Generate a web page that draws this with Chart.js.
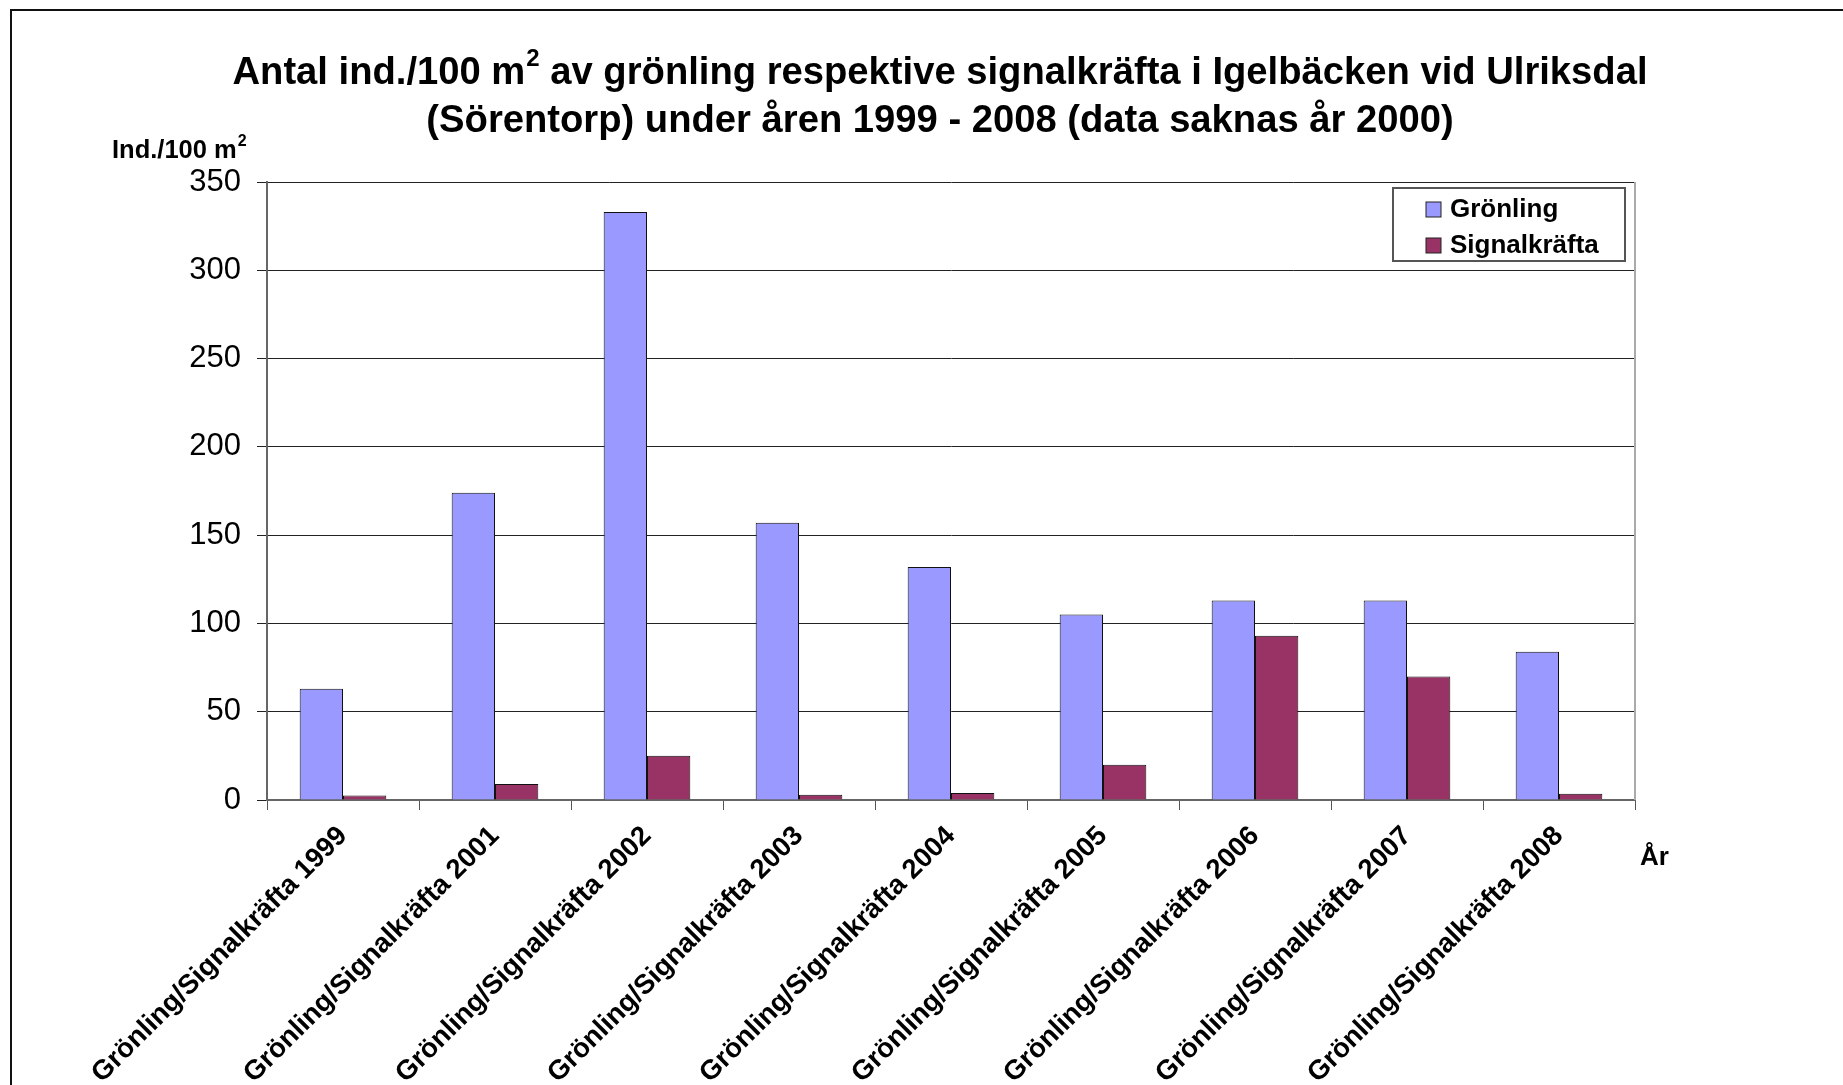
<!DOCTYPE html>
<html lang="sv">
<head>
<meta charset="utf-8">
<title>Grönling och signalkräfta i Igelbäcken</title>
<script src="https://cdn.jsdelivr.net/npm/chart.js@4/dist/chart.umd.min.js"></script>
<style>
  html, body { margin: 0; padding: 0; background: #fff; }
  #chart { display: block; }
</style>
</head>
<body>
<canvas id="chart" width="1843" height="1085"></canvas>
<script>
const years = ["1999", "2001", "2002", "2003", "2004", "2005", "2006", "2007", "2008"];
const categories = years.map((y) => `Grönling/Signalkräfta ${y}`);
const gronling = [63, 174, 333, 157, 132, 105, 113, 113, 84];
const signalkrafta = [2.5, 9, 25, 3, 4, 20, 93, 70, 3.5];
const seriesNames = ["Grönling", "Signalkräfta"];
const yTicks = [0, 50, 100, 150, 200, 250, 300, 350];

const titleLines = [
  "Antal ind./100 m² av grönling respektive signalkräfta i Igelbäcken vid Ulriksdal",
  "(Sörentorp) under åren 1999 - 2008 (data saknas år 2000)",
];
const yTitle = "Ind./100 m²";
const xTitle = "År";

const FONT = "'Liberation Sans', Arial, sans-serif";

// draws text where "²" is rendered as a raised, smaller "2"
function drawWithSup(ctx, text, x, y, size, align) {
  const parts = text.split("²");
  const supSize = Math.round(size * 0.62);
  const normal = `bold ${size}px ${FONT}`;
  const small = `bold ${supSize}px ${FONT}`;

  let total = 0;
  parts.forEach((p, i) => {
    ctx.font = normal;
    total += ctx.measureText(p).width;
    if (i < parts.length - 1) {
      ctx.font = small;
      total += ctx.measureText("2").width + 1;
    }
  });

  let cx = align === "center" ? x - total / 2 : x;
  ctx.textAlign = "left";
  parts.forEach((p, i) => {
    ctx.font = normal;
    ctx.fillText(p, cx, y);
    cx += ctx.measureText(p).width;
    if (i < parts.length - 1) {
      ctx.font = small;
      ctx.fillText("2", cx + 1, y - size * 0.36);
      cx += ctx.measureText("2").width + 1;
    }
  });
}

// frame, titles, plot border and the legend box are drawn here
const decorations = {
  id: "decorations",
  afterDraw(chart) {
    const ctx = chart.ctx;
    const area = chart.chartArea;
    ctx.save();

    // outer frame (only top and left edges are visible)
    ctx.strokeStyle = "#111";
    ctx.lineWidth = 2;
    ctx.beginPath();
    ctx.moveTo(11, 1085);
    ctx.lineTo(11, 10);
    ctx.lineTo(1843, 10);
    ctx.stroke();

    // right edge of plot area
    ctx.strokeStyle = "#aaa";
    ctx.lineWidth = 2;
    ctx.beginPath();
    ctx.moveTo(area.right, area.top);
    ctx.lineTo(area.right, area.bottom);
    ctx.stroke();

    ctx.fillStyle = "#000";
    ctx.textBaseline = "middle";

    titleLines.forEach((line, i) => drawWithSup(ctx, line, 940, 73 + i * 48, 38.2, "center"));
    drawWithSup(ctx, yTitle, 112, 151, 25.5, "left");

    ctx.font = `bold 26px ${FONT}`;
    ctx.textAlign = "left";
    ctx.fillText(xTitle, area.right + 5, 858);

    // legend
    const lx = area.right - 242;
    const ly = area.top + 6;
    ctx.fillStyle = "#fff";
    ctx.fillRect(lx, ly, 232, 73);
    ctx.strokeStyle = "#555";
    ctx.lineWidth = 2;
    ctx.strokeRect(lx, ly, 232, 73);

    ctx.font = `bold 26px ${FONT}`;
    chart.data.datasets.forEach((ds, i) => {
      const cy = ly + 21 + i * 36;
      ctx.fillStyle = ds.backgroundColor;
      ctx.fillRect(lx + 33, cy - 7, 15, 15);
      ctx.strokeStyle = "#222";
      ctx.lineWidth = 1;
      ctx.strokeRect(lx + 33, cy - 7, 15, 15);
      ctx.fillStyle = "#000";
      ctx.fillText(ds.label, lx + 57, cy + 1);
    });

    ctx.restore();
  },
};

function buildChart() {
  const canvas = document.getElementById("chart");
  if (!canvas || typeof Chart === "undefined") return;

  new Chart(canvas, {
    type: "bar",
    data: {
      labels: categories,
      datasets: [
        {
          label: seriesNames[0],
          data: gronling,
          backgroundColor: "#9999ff",
          borderColor: "#111",
          borderWidth: 1,
        },
        {
          label: seriesNames[1],
          data: signalkrafta,
          backgroundColor: "#993366",
          borderColor: "#111",
          borderWidth: 1,
        },
      ],
    },
    options: {
      responsive: false,
      animation: false,
      events: [],
      layout: { padding: { top: 182, left: 10, right: 208, bottom: 0 } },
      datasets: {
        bar: { categoryPercentage: 0.57, barPercentage: 1 },
      },
      plugins: {
        legend: { display: false },
        title: { display: false },
        tooltip: { enabled: false },
      },
      scales: {
        x: {
          afterFit: (s) => { s.height = 285; },
          grid: {
            offset: true,
            drawOnChartArea: false,
            tickLength: 10,
            color: "#555",
          },
          border: { color: "#666", width: 2 },
          ticks: {
            autoSkip: false,
            minRotation: 45,
            maxRotation: 45,
            padding: 10,
            color: "#000",
            font: { family: FONT, size: 27.5, weight: "bold" },
          },
        },
        y: {
          min: 0,
          max: 350,
          afterFit: (s) => { s.width = 257; },
          afterBuildTicks: (s) => { s.ticks = yTicks.map((v) => ({ value: v })); },
          grid: { color: "#222", lineWidth: 1, tickLength: 10 },
          border: { color: "#666", width: 2 },
          ticks: {
            padding: 16,
            color: "#000",
            font: { family: FONT, size: 31 },
          },
        },
      },
    },
    plugins: [decorations],
  });
}

document.addEventListener("DOMContentLoaded", buildChart);
</script>
</body>
</html>
